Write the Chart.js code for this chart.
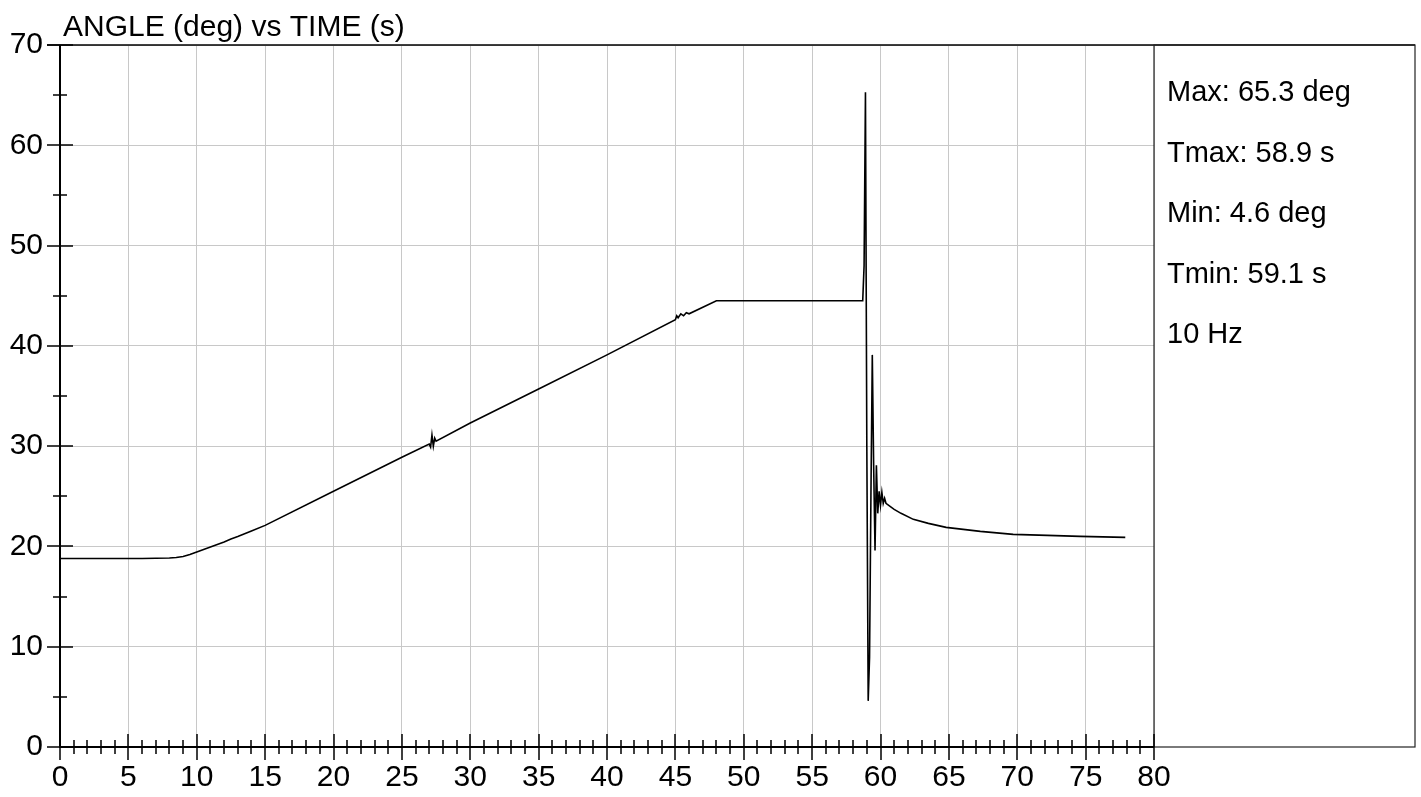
<!DOCTYPE html>
<html>
<head>
<meta charset="utf-8">
<title>ANGLE vs TIME</title>
<script src="https://cdn.jsdelivr.net/npm/chart.js@4.4.1/dist/chart.umd.min.js"></script>
<style>
    html, body { margin: 0; padding: 0; background: #fff; }
    #wrap { width: 1421px; height: 797px; }
</style>
</head>
<body>
<div id="wrap"><canvas id="angleChart" width="1421" height="797"></canvas></div>
<script>
// Values (time in s, angle in deg)
const timeSec = [
    0, 2, 4, 6, 8, 8.5, 9, 9.5, 10, 10.5, 11, 11.5, 12, 12.5, 13, 14, 15, 20, 25,
    27.0, 27.1, 27.2, 27.3, 27.4, 27.5, 30, 35, 40,
    45.0, 45.1, 45.2, 45.4, 45.6, 45.8, 46.0, 48, 52, 56, 58.7,
    58.8, 58.9, 59.0, 59.1, 59.2, 59.3, 59.4, 59.5, 59.6, 59.7, 59.8, 59.9,
    60.0, 60.1, 60.2, 60.3, 60.4, 60.7, 61, 61.5, 62.4, 63.5, 64.8,
    67.3, 69.7, 72.2, 74.6, 77.9
];
const angleDeg = [
    18.8, 18.8, 18.8, 18.8, 18.85, 18.9, 19.0, 19.2, 19.45, 19.7, 19.95, 20.2, 20.45, 20.75, 21.0, 21.55, 22.1, 25.5, 28.9,
    30.2, 29.9, 31.1, 30.0, 30.8, 30.5, 32.3, 35.7, 39.1,
    42.6, 43.0, 42.8, 43.2, 43.0, 43.3, 43.2, 44.5, 44.5, 44.5, 44.5,
    48.0, 65.3, 30.0, 4.6, 9.0, 25.0, 39.1, 28.0, 19.6, 28.1, 23.3, 25.5,
    24.1, 25.4, 24.3, 24.8, 24.3, 24.0, 23.7, 23.3, 22.7, 22.3, 21.9,
    21.5, 21.2, 21.1, 21.0, 20.9
];

const xMin = 0, xMax = 80, xStep = 5, xMinorStep = 1;
const yMin = 0, yMax = 70, yStep = 10, yMinorStep = 5;

const titleText = 'ANGLE (deg) vs TIME (s)';
const statsLines = ['Max: 65.3 deg', 'Tmax: 58.9 s', 'Min: 4.6 deg', 'Tmin: 59.1 s', '10 Hz'];

const FONT = '"Liberation Sans", Arial, sans-serif';

// frame, crossing tick marks, title and the stats panel
const decorPlugin = {
    id: 'decor',
    afterDraw(chart) {
        const ctx = chart.ctx;
        const area = chart.chartArea;
        const xs = chart.scales.x;
        const ys = chart.scales.y;
        const panelRight = 1415;

        ctx.save();
        ctx.strokeStyle = '#000';

        // top line and stats box
        ctx.lineWidth = 1.5;
        ctx.beginPath();
        ctx.moveTo(area.left - 13, area.top);
        ctx.lineTo(panelRight, area.top);
        ctx.stroke();
        ctx.lineWidth = 1.2;
        ctx.strokeStyle = '#222';
        ctx.strokeRect(area.right, area.top, panelRight - area.right, area.bottom - area.top);

        // axes
        ctx.strokeStyle = '#000';
        ctx.lineWidth = 2;
        ctx.beginPath();
        ctx.moveTo(area.left, area.top);
        ctx.lineTo(area.left, area.bottom);
        ctx.lineTo(area.right, area.bottom);
        ctx.stroke();

        // tick marks crossing the axes
        ctx.lineWidth = 1.5;
        ctx.beginPath();
        for (let v = yMin; v <= yMax; v += yMinorStep) {
            const py = Math.round(ys.getPixelForValue(v));
            const half = (v % yStep === 0) ? 13 : 7;
            ctx.moveTo(area.left - half, py);
            ctx.lineTo(area.left + half, py);
        }
        for (let v = xMin; v <= xMax; v += xMinorStep) {
            const px = Math.round(xs.getPixelForValue(v));
            const half = (v % xStep === 0) ? 13 : 7;
            ctx.moveTo(px, area.bottom - half);
            ctx.lineTo(px, area.bottom + half);
        }
        ctx.stroke();

        // title
        ctx.fillStyle = '#000';
        ctx.font = '30px ' + FONT;
        ctx.textAlign = 'left';
        ctx.textBaseline = 'alphabetic';
        ctx.fillText(titleText, 63, 36);

        // stats text
        ctx.font = '29px ' + FONT;
        statsLines.forEach((line, i) => {
            ctx.fillText(line, 1167, 101 + i * 60.5);
        });
        ctx.restore();
    }
};

const points = timeSec.map((t, i) => ({ x: t, y: angleDeg[i] }));

new Chart(document.getElementById('angleChart'), {
    type: 'line',
    data: {
        datasets: [{
            label: 'ANGLE',
            data: points,
            borderColor: '#000',
            borderWidth: 1.6,
            pointRadius: 0,
            tension: 0,
            fill: false
        }]
    },
    options: {
        responsive: false,
        animation: false,
        devicePixelRatio: 1,
        layout: { padding: { left: 0, top: 45, right: 267, bottom: 0 } },
        plugins: {
            legend: { display: false },
            tooltip: { enabled: false },
            title: { display: false }
        },
        scales: {
            x: {
                type: 'linear',
                min: xMin,
                max: xMax,
                afterFit(scale) { scale.height = 50; },
                border: { display: false },
                grid: { color: '#c8c8c8', lineWidth: 1, drawTicks: false },
                ticks: {
                    stepSize: xStep,
                    padding: 13,
                    color: '#000',
                    maxRotation: 0,
                    autoSkip: false,
                    font: { family: FONT, size: 30 }
                }
            },
            y: {
                min: yMin,
                max: yMax,
                afterFit(scale) { scale.width = 60; },
                border: { display: false },
                grid: { color: '#c8c8c8', lineWidth: 1, drawTicks: false },
                ticks: {
                    stepSize: yStep,
                    padding: 17,
                    color: '#000',
                    font: { family: FONT, size: 30 }
                }
            }
        }
    },
    plugins: [decorPlugin]
});
</script>
</body>
</html>
